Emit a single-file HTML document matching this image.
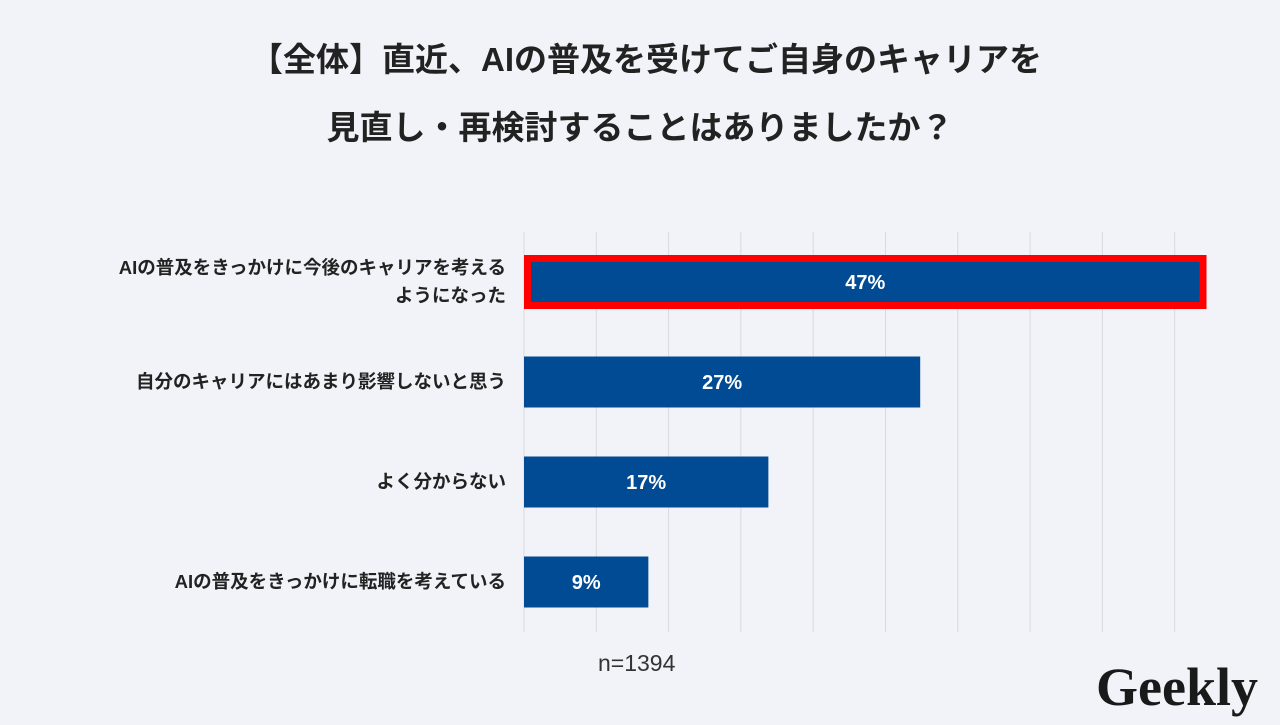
<!DOCTYPE html>
<html><head><meta charset="utf-8"><style>
body{margin:0;width:1280px;height:720px;background:#f2f3f8;overflow:hidden;font-family:"Liberation Sans","Noto Sans CJK JP",sans-serif}
</style></head><body>
<svg width="1280" height="720">
<text x="646" y="71" text-anchor="middle" font-size="33" font-weight="bold" fill="#222">【全体】直近、AIの普及を受けてご自身のキャリアを</text>
<text x="640" y="139" text-anchor="middle" font-size="33" font-weight="bold" fill="#222">見直し・再検討することはありましたか？</text>
<g id="grid"></g><g id="bars"></g>
<text x="598" y="671" font-size="23" fill="#333">n=1394</text>
<text x="1177" y="705" text-anchor="middle" font-size="54" font-weight="bold" font-family="Liberation Serif, serif" fill="#1a1a1a">Geekly</text>
</svg>
<script>
const categories=[["AIの普及をきっかけに今後のキャリアを考える","ようになった"],["自分のキャリアにはあまり影響しないと思う"],["よく分からない"],["AIの普及をきっかけに転職を考えている"]];
const values=[47.2,27.4,16.9,8.6];
const valueLabels=["47%","27%","17%","9%"];
const gridTicks=[0,5,10,15,20,25,30,35,40,45];
const NS="http://www.w3.org/2000/svg";
const x0=524,scale=14.46,rowY0=282,rowStep=100,bh=51;
const xs=v=>x0+v*scale, ys=i=>rowY0+i*rowStep;
function mk(t,a,p){const e=document.createElementNS(NS,t);for(const k in a)e.setAttribute(k,a[k]);p.appendChild(e);return e;}
const g=document.getElementById('grid'),b=document.getElementById('bars');
gridTicks.forEach(t=>{const l=mk('line',{x1:xs(t),x2:xs(t),y1:232,y2:632,stroke:'#d9d9de','stroke-width':1},g);

});
values.forEach((v,i)=>{const y=ys(i);
 const r=mk('rect',{x:x0,y:y-bh/2,width:xs(v)-x0,height:bh,fill:'#004b93'},b);
 
 
 if(i===0){r.setAttribute('stroke','#ff0000');r.setAttribute('stroke-width','7');r.setAttribute('x',x0+3.5);r.setAttribute('y',y-27+3.5);r.setAttribute('width',xs(v)-x0-7);r.setAttribute('height',54-7);}
 const t=mk('text',{x:(x0+xs(v))/2,y:y+7,'text-anchor':'middle','font-size':20,'font-weight':'bold',fill:'#fff'},b);
 t.textContent=valueLabels[i];
 
 
 const lines=categories[i];
 lines.forEach((s,j)=>{const c=mk('text',{x:506,y:y+6+(j-(lines.length-1)/2)*28,'text-anchor':'end','font-size':18.5,'font-weight':'bold',fill:'#222'},b);
 c.textContent=s;
 
 });
});
</script>
</body></html>
